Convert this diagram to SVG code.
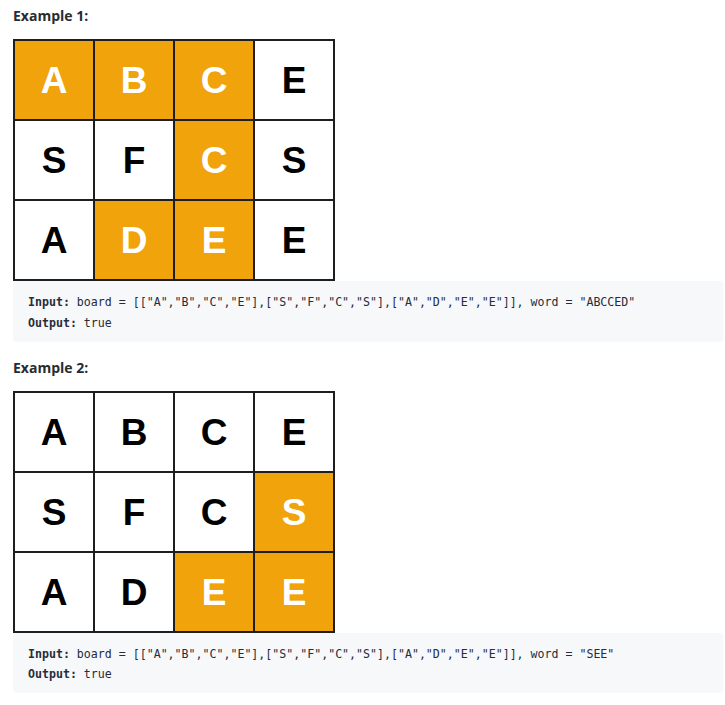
<svg xmlns="http://www.w3.org/2000/svg" width="725" height="705" viewBox="0 0 725 705">
<style>
.h{font-family:"Open Sans","Liberation Sans",sans-serif;font-weight:700;font-size:14px;fill:#262c33}
.cell{stroke:#1e1e1e;stroke-width:2}
.w{fill:#ffffff}
.o{fill:#f0a30a}
.L{font-family:"Liberation Sans",Arial,sans-serif;font-weight:700;font-size:37px;text-anchor:middle}
.lw{fill:#ffffff}
.lb{fill:#000000}
.code{fill:#f7f8fa}
.m{font-family:"DejaVu Sans Mono","Liberation Mono",monospace;font-size:11.6px;fill:#262c3a}
.b{font-weight:700}
</style>
<rect width="725" height="705" fill="#ffffff"/>
<text class="h" x="13" y="20.7">Example 1:</text>
<g id="grid1">
<g id="g1-r0c0"><rect class="cell o" x="14" y="40" width="80" height="80"/><text class="L lw" x="54" y="93.3">A</text></g>
<g id="g1-r0c1"><rect class="cell o" x="94" y="40" width="80" height="80"/><text class="L lw" x="134" y="93.3">B</text></g>
<g id="g1-r0c2"><rect class="cell o" x="174" y="40" width="80" height="80"/><text class="L lw" x="214" y="93.3">C</text></g>
<g id="g1-r0c3"><rect class="cell w" x="254" y="40" width="80" height="80"/><text class="L lb" x="294" y="93.3">E</text></g>
<g id="g1-r1c0"><rect class="cell w" x="14" y="120" width="80" height="80"/><text class="L lb" x="54" y="173.3">S</text></g>
<g id="g1-r1c1"><rect class="cell w" x="94" y="120" width="80" height="80"/><text class="L lb" x="134" y="173.3">F</text></g>
<g id="g1-r1c2"><rect class="cell o" x="174" y="120" width="80" height="80"/><text class="L lw" x="214" y="173.3">C</text></g>
<g id="g1-r1c3"><rect class="cell w" x="254" y="120" width="80" height="80"/><text class="L lb" x="294" y="173.3">S</text></g>
<g id="g1-r2c0"><rect class="cell w" x="14" y="200" width="80" height="80"/><text class="L lb" x="54" y="253.3">A</text></g>
<g id="g1-r2c1"><rect class="cell o" x="94" y="200" width="80" height="80"/><text class="L lw" x="134" y="253.3">D</text></g>
<g id="g1-r2c2"><rect class="cell o" x="174" y="200" width="80" height="80"/><text class="L lw" x="214" y="253.3">E</text></g>
<g id="g1-r2c3"><rect class="cell w" x="254" y="200" width="80" height="80"/><text class="L lb" x="294" y="253.3">E</text></g>
</g>
<g id="code1">
<rect class="code" x="13" y="281" width="710.5" height="61" rx="4"/>
<text class="m" x="28" y="306"><tspan class="b">Input:</tspan> board = [["A","B","C","E"],["S","F","C","S"],["A","D","E","E"]], word = "ABCCED"</text>
<text class="m" x="28" y="326.7"><tspan class="b">Output:</tspan> true</text>
</g>
<text class="h" x="13" y="372.7">Example 2:</text>
<g id="grid2">
<g id="g2-r0c0"><rect class="cell w" x="14" y="392" width="80" height="80"/><text class="L lb" x="54" y="445.3">A</text></g>
<g id="g2-r0c1"><rect class="cell w" x="94" y="392" width="80" height="80"/><text class="L lb" x="134" y="445.3">B</text></g>
<g id="g2-r0c2"><rect class="cell w" x="174" y="392" width="80" height="80"/><text class="L lb" x="214" y="445.3">C</text></g>
<g id="g2-r0c3"><rect class="cell w" x="254" y="392" width="80" height="80"/><text class="L lb" x="294" y="445.3">E</text></g>
<g id="g2-r1c0"><rect class="cell w" x="14" y="472" width="80" height="80"/><text class="L lb" x="54" y="525.3">S</text></g>
<g id="g2-r1c1"><rect class="cell w" x="94" y="472" width="80" height="80"/><text class="L lb" x="134" y="525.3">F</text></g>
<g id="g2-r1c2"><rect class="cell w" x="174" y="472" width="80" height="80"/><text class="L lb" x="214" y="525.3">C</text></g>
<g id="g2-r1c3"><rect class="cell o" x="254" y="472" width="80" height="80"/><text class="L lw" x="294" y="525.3">S</text></g>
<g id="g2-r2c0"><rect class="cell w" x="14" y="552" width="80" height="80"/><text class="L lb" x="54" y="605.3">A</text></g>
<g id="g2-r2c1"><rect class="cell w" x="94" y="552" width="80" height="80"/><text class="L lb" x="134" y="605.3">D</text></g>
<g id="g2-r2c2"><rect class="cell o" x="174" y="552" width="80" height="80"/><text class="L lw" x="214" y="605.3">E</text></g>
<g id="g2-r2c3"><rect class="cell o" x="254" y="552" width="80" height="80"/><text class="L lw" x="294" y="605.3">E</text></g>
</g>
<g id="code2">
<rect class="code" x="13" y="633" width="710.5" height="60" rx="4"/>
<text class="m" x="28" y="657.5"><tspan class="b">Input:</tspan> board = [["A","B","C","E"],["S","F","C","S"],["A","D","E","E"]], word = "SEE"</text>
<text class="m" x="28" y="678.3"><tspan class="b">Output:</tspan> true</text>
</g>
<g id="connectors"/>
</svg>
